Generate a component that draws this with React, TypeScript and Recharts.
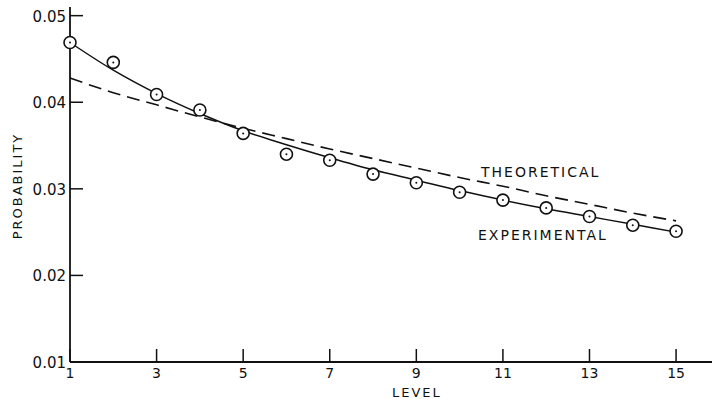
import { ComposedChart, Line, Scatter, XAxis, YAxis } from "recharts";

const levels = [1, 2, 3, 4, 5, 6, 7, 8, 9, 10, 11, 12, 13, 14, 15];
const observed = [0.0469, 0.0446, 0.0409, 0.0391, 0.0364, 0.034, 0.0333, 0.0317, 0.0307, 0.0296, 0.0287, 0.0278, 0.0268, 0.0258, 0.0251];
const experimentalCurve = [0.0469, 0.0437, 0.041, 0.0387, 0.0367, 0.0351, 0.0336, 0.0322, 0.031, 0.0298, 0.0287, 0.0277, 0.0268, 0.0259, 0.025];
const theoreticalCurve = [0.0428, 0.0411, 0.0397, 0.0383, 0.037, 0.0358, 0.0346, 0.0335, 0.0324, 0.0313, 0.0303, 0.0292, 0.0282, 0.0272, 0.0263];
const xTicks = [1, 3, 5, 7, 9, 11, 13, 15];
const yTicks = [0.01, 0.02, 0.03, 0.04, 0.05];

const data = levels.map((level, i) => ({
  level,
  observed: observed[i],
  experimental: experimentalCurve[i],
  theoretical: theoreticalCurve[i],
}));

const FONT = "'DejaVu Sans', sans-serif";
const INK = "#111";

function YTick(props: any) {
  const { x, y, payload } = props;
  return (
    <g>
      <line x1={x} y1={y} x2={x + 13} y2={y} stroke={INK} strokeWidth={1.5} />
      <text x={x - 4} y={y + 6} textAnchor="end" fontSize={15} fontFamily={FONT} fill={INK}>
        {payload.value.toFixed(2)}
      </text>
    </g>
  );
}

function XTick(props: any) {
  const { x, y, payload } = props;
  return (
    <g>
      <line x1={x} y1={y} x2={x} y2={y - 13} stroke={INK} strokeWidth={1.5} />
      <text x={x} y={y + 16} textAnchor="middle" fontSize={14} fontFamily={FONT} fill={INK}>
        {payload.value}
      </text>
    </g>
  );
}

function Ring(props: any) {
  const { cx, cy } = props;
  return (
    <g>
      <circle cx={cx} cy={cy} r={6} fill="#fff" stroke={INK} strokeWidth={1.6} />
      <circle cx={cx} cy={cy} r={1} fill={INK} />
    </g>
  );
}

export default function App() {
  return (
    <div style={{ width: 712, height: 399, background: "#fff" }}>
      <style>{"body{margin:0}"}</style>
      <ComposedChart width={712} height={399} data={data} margin={{ top: 7, right: 0, bottom: 0, left: 0 }}>
        <XAxis
          type="number"
          dataKey="level"
          domain={[1, 15.83]}
          ticks={xTicks}
          height={37}
          tickSize={0}
          tickMargin={0}
          tickLine={false}
          axisLine={{ stroke: INK, strokeWidth: 1.8 }}
          tick={<XTick />}
        />
        <YAxis
          type="number"
          domain={[0.01, 0.051]}
          ticks={yTicks}
          width={70}
          tickSize={0}
          tickMargin={0}
          tickLine={false}
          axisLine={{ stroke: INK, strokeWidth: 1.8 }}
          tick={<YTick />}
        />
        <Line
          type="monotone"
          dataKey="theoretical"
          stroke={INK}
          strokeWidth={1.6}
          strokeDasharray="13 7"
          dot={false}
          isAnimationActive={false}
        />
        <Line
          type="monotone"
          dataKey="experimental"
          stroke={INK}
          strokeWidth={1.5}
          dot={false}
          isAnimationActive={false}
        />
        <Scatter dataKey="observed" shape={<Ring />} isAnimationActive={false} />
        <text x={481} y={177} fontSize={14} fontFamily={FONT} letterSpacing={2} fill={INK}>
          THEORETICAL
        </text>
        <text x={478} y={240} fontSize={14} fontFamily={FONT} letterSpacing={2} fill={INK}>
          EXPERIMENTAL
        </text>
        <text x={392} y={397} fontSize={13} fontFamily={FONT} letterSpacing={2} fill={INK}>
          LEVEL
        </text>
        <text
          x={22}
          y={186}
          transform="rotate(-90 22 186)"
          textAnchor="middle"
          fontSize={13}
          fontFamily={FONT}
          letterSpacing={2}
          fill={INK}
        >
          PROBABILITY
        </text>
      </ComposedChart>
    </div>
  );
}
